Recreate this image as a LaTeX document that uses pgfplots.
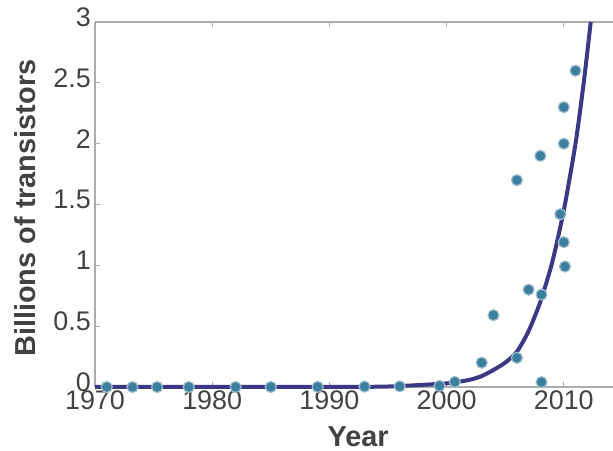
\documentclass[border=0pt]{standalone}
\usepackage{fontspec}
\setmainfont{Liberation Sans}
\usepackage{pgfplots}
\usepackage{pgfplotstable}
\pgfplotsset{compat=1.18}

\definecolor{axisgray}{RGB}{172,172,172}
\definecolor{labelgray}{RGB}{66,66,66}
\definecolor{chipdot}{RGB}{60,126,158}
\definecolor{fitline}{RGB}{60,56,132}

% Transistor counts per chip, in billions
\pgfplotstableread{
year count
1971 0.0000023
1973.2 0.0000045
1975.3 0.0000065
1978 0.000029
1982 0.000134
1985 0.000275
1989 0.0012
1993 0.0031
1996 0.0055
1999.4 0.0095
2000.7 0.042
2003 0.20
2004 0.59
2006 0.24
2006 1.70
2007 0.80
2008.1 0.76
2008 1.90
2008.1 0.04
2009.7 1.42
2010 1.19
2010.1 0.99
2010 2.00
2010 2.30
2011 2.60
}\chips

% Exponential trend line through the counts
\pgfplotstableread{
year count
1970 0.0
1980 0.0002
1990 0.001
1995 0.004
2000 0.03
2002 0.06
2003 0.09
2004 0.14
2005 0.20
2006 0.29
2007 0.46
2008 0.70
2009 1.02
2010 1.45
2011 2.00
2011.7 2.50
2012.3 3.00
}\trend

\begin{document}
\begin{tikzpicture}
\begin{axis}[
  at={(95bp,64bp)}, anchor=south west,
  scale only axis, width=518bp, height=365bp,
  xmin=1970, xmax=2014.2, ymin=0, ymax=3,
  clip=false,
  axis x line*=box, axis y line*=left,
  xtick={1970,1980,1990,2000,2010},
  ytick={0,0.5,1,1.5,2,2.5,3},
  xtick pos=both, ytick pos=left,
  tick align=inside, major tick length=5bp,
  tick style={axisgray, line width=1bp},
  axis line style={axisgray, line width=1.5bp},
  ticklabel style={font=\fontsize{27}{27}\selectfont, text=labelgray, inner sep=0bp},
  xticklabel style={yshift=-4bp},
  yticklabel style={xshift=-4bp, yshift=5bp},
  /pgf/number format/assume math mode=true,
  /pgf/number format/1000 sep={},
  xlabel={\bfseries Year},
  ylabel={\bfseries Billions of transistors},
  xlabel style={at={(axis description cs:0.508,-0.136)}, anchor=center, inner sep=0pt,
    font=\fontsize{29}{29}\selectfont, text=labelgray},
  ylabel style={at={(axis description cs:-0.135,0.49)}, anchor=center, rotate=0,
    font=\fontsize{29}{29}\selectfont, text=labelgray},
]
\addplot[only marks, mark=*, mark size=5.5bp,
  mark options={fill=chipdot, draw=chipdot!50!white, line width=1.2bp}]
  table[x=year, y=count] {\chips};
\addplot[fitline, line width=4bp, smooth, tension=0.4]
  table[x=year, y=count] {\trend};
\end{axis}
\pgfresetboundingbox
\path[use as bounding box] (0,0) rectangle (613bp,451bp);
\end{tikzpicture}
\end{document}
